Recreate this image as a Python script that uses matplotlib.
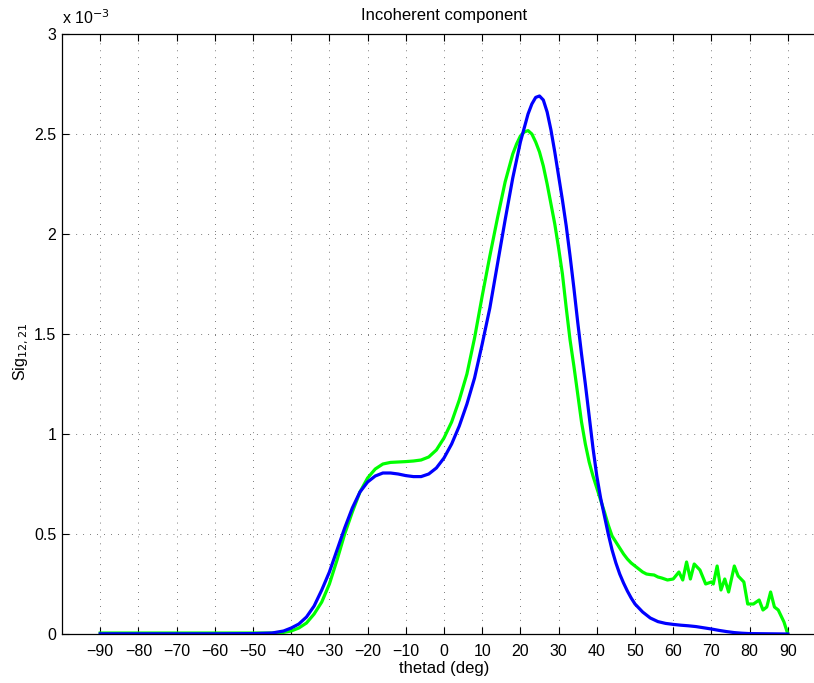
import matplotlib
matplotlib.use("Agg")
import matplotlib.pyplot as plt
from matplotlib.ticker import FuncFormatter

plt.rcParams['font.family'] = ['Liberation Sans', 'DejaVu Sans']

# values in units of 1e-3
theta_blue = [-90, -80, -70, -60, -50, -45, -42, -40, -38, -36, -34, -32, -30, -28, -26, -24, -22, -20,
              -18, -16, -14, -12, -10, -8, -6, -4, -2, 0, 2, 4, 6, 8, 10, 12, 14, 16, 18, 20, 22, 23,
              24, 25, 26, 27, 28, 29, 30, 31, 32, 33, 34, 35, 36, 37, 38, 39, 40, 41, 42, 43, 44, 45,
              46, 47, 48, 49, 50, 52, 54, 56, 58, 60, 62, 64, 66, 68, 70, 72, 74, 76, 78, 80, 85, 90]
sig_blue = [0.001, 0.001, 0.001, 0.001, 0.002, 0.005, 0.015, 0.03, 0.05, 0.085, 0.14, 0.22, 0.31, 0.42,
            0.53, 0.63, 0.71, 0.76, 0.79, 0.805, 0.805, 0.80, 0.792, 0.787, 0.787, 0.80, 0.83, 0.88, 0.95,
            1.04, 1.15, 1.28, 1.45, 1.63, 1.85, 2.07, 2.28, 2.46, 2.6, 2.65, 2.683, 2.69, 2.67, 2.61, 2.52,
            2.41, 2.29, 2.17, 2.04, 1.89, 1.73, 1.56, 1.40, 1.25, 1.09, 0.93, 0.79, 0.68, 0.59, 0.5, 0.42,
            0.355, 0.30, 0.255, 0.215, 0.18, 0.15, 0.11, 0.08, 0.062, 0.053, 0.048, 0.044, 0.041, 0.037,
            0.031, 0.025, 0.018, 0.012, 0.007, 0.004, 0.002, 0.001, 0.0]

theta_green = [-90, -80, -70, -60, -50, -45, -42, -40, -38, -36, -34, -32, -30, -28, -26, -24, -22, -20,
               -18, -16, -14, -12, -10, -8, -6, -4, -2, 0, 2, 4, 6, 8, 10, 12, 14, 16, 18, 19, 20, 21,
               22, 23, 24, 25, 26, 27, 28, 29, 30, 31, 32, 33, 34, 35, 36, 37, 38, 39, 40, 41, 42, 43,
               44, 45, 46, 47, 48, 49, 50, 51, 52, 53, 54, 55, 56, 57, 58.5, 60, 61.5, 62.5, 63.5, 64.5,
               65.5, 67, 68.5, 70, 70.5, 71.5, 72.5, 73.5, 74.5, 76, 77, 78.5, 79.5, 81, 82.5, 83.5,
               84.5, 85.5, 86.5, 87.5, 89, 90]
sig_green = [0.005, 0.005, 0.005, 0.005, 0.005, 0.005, 0.008, 0.015, 0.03, 0.055, 0.1, 0.16, 0.25, 0.37,
             0.5, 0.61, 0.71, 0.78, 0.825, 0.85, 0.858, 0.86, 0.862, 0.865, 0.87, 0.885, 0.92, 0.98, 1.06,
             1.17, 1.3, 1.48, 1.69, 1.89, 2.08, 2.26, 2.4, 2.45, 2.49, 2.51, 2.517, 2.5, 2.46, 2.41, 2.34,
             2.25, 2.15, 2.05, 1.93, 1.8, 1.63, 1.47, 1.34, 1.2, 1.06, 0.95, 0.86, 0.79, 0.73, 0.67, 0.61,
             0.545, 0.49, 0.46, 0.43, 0.40, 0.375, 0.355, 0.34, 0.325, 0.31, 0.30, 0.297, 0.295, 0.285,
             0.28, 0.27, 0.275, 0.31, 0.27, 0.36, 0.275, 0.35, 0.32, 0.25, 0.26, 0.25, 0.34, 0.22, 0.275,
             0.21, 0.34, 0.29, 0.26, 0.15, 0.15, 0.17, 0.12, 0.135, 0.21, 0.135, 0.12, 0.06, 0.0]

xticks = list(range(-90, 91, 10))
yticks = [0, 0.5, 1, 1.5, 2, 2.5, 3]

fig = plt.figure(figsize=(8.14, 6.83), dpi=100)
ax = fig.add_axes([62/814, 49/683, 764/814, 600/683])

ax.plot(theta_green, sig_green, color=(0, 1, 0), lw=2.3, solid_joinstyle='round')
ax.plot(theta_blue, sig_blue, color=(0, 0, 1), lw=2.3, solid_joinstyle='round')

ax.set_xlim(-100, 100)
ax.set_ylim(0, 3)
ax.set_xticks(xticks)
ax.set_yticks(yticks)
ax.yaxis.set_major_formatter(FuncFormatter(lambda v, p: '%g' % v))
ax.tick_params(direction='in', top=True, right=True, length=5, width=0.8, labelsize=11.5)
ax.tick_params(axis='x', pad=7)
ax.tick_params(axis='y', pad=4)
ax.grid(True, color='k', linestyle=(0, (1, 9)), linewidth=0.5)
for s in ax.spines.values():
    s.set_linewidth(0.9)

ax.set_title('Incoherent component', fontsize=12, pad=10)
ax.set_xlabel('thetad (deg)', fontsize=12, labelpad=2)
ax.set_ylabel('Sig$_{12,21}$', fontsize=11.5, labelpad=1)
ax.yaxis.set_label_coords(-0.040, 0.47)
ax.text(0.0, 1.012, r'x 10$^{-3}$', transform=ax.transAxes, fontsize=11.5, ha='left', va='bottom')

fig.savefig('out.png', dpi=100)
